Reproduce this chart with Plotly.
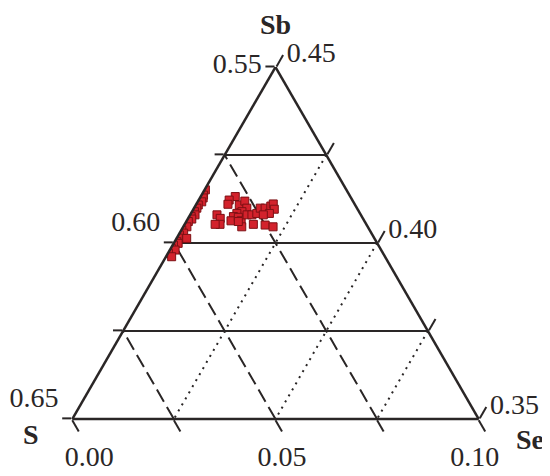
import plotly.graph_objects as go

# Sb / S / Se fractions
# points lying along the S-Sb edge
sb_edge = [0.4151, 0.4136, 0.4128, 0.4117, 0.4108, 0.4099, 0.4089, 0.4080, 0.4075, 0.4068,
           0.4061, 0.4046, 0.4037, 0.4028, 0.4023, 0.4014, 0.4004, 0.3999, 0.3994, 0.3985,
           0.3980, 0.3971, 0.3961, 0.4013]
se_edge = [0.0002, 0.0005, 0.0008, 0.0010, 0.0006, 0.0007, 0.0006, 0.0012, 0.0005, 0.0010,
           0.0005, 0.0009, 0.0001, 0.0010, 0.0002, 0.0004, 0.0005, 0.0011, 0.0002, 0.0001,
           0.0013, 0.0001, 0.0014, 0.0025]
s_edge = [0.5847, 0.5859, 0.5864, 0.5873, 0.5886, 0.5894, 0.5905, 0.5908, 0.5920, 0.5922,
          0.5934, 0.5945, 0.5962, 0.5962, 0.5975, 0.5982, 0.5991, 0.5990, 0.6004, 0.6014,
          0.6007, 0.6028, 0.6025, 0.5962]

# points in the inner cluster
sb_in = [0.4132, 0.4122, 0.4110, 0.4108, 0.4119, 0.4099, 0.4089, 0.4084, 0.4075, 0.4080,
         0.4070, 0.4053, 0.4053, 0.4063, 0.4073, 0.4063, 0.4080, 0.4080, 0.4084, 0.4099,
         0.4099, 0.4105, 0.4111, 0.4096, 0.4084, 0.4080, 0.4046, 0.4053, 0.4051, 0.4046,
         0.4061]
se_in = [0.0085, 0.0075, 0.0078, 0.0107, 0.0115, 0.0130, 0.0123, 0.0113, 0.0109, 0.0066,
         0.0079, 0.0087, 0.0075, 0.0109, 0.0122, 0.0134, 0.0140, 0.0152, 0.0162, 0.0163,
         0.0175, 0.0186, 0.0189, 0.0199, 0.0193, 0.0180, 0.0144, 0.0169, 0.0199, 0.0221,
         0.0128]
s_in = [0.5783, 0.5803, 0.5812, 0.5785, 0.5766, 0.5771, 0.5788, 0.5803, 0.5816, 0.5854,
        0.5851, 0.5860, 0.5872, 0.5828, 0.5805, 0.5803, 0.5780, 0.5768, 0.5754, 0.5738,
        0.5726, 0.5709, 0.5700, 0.5705, 0.5723, 0.5740, 0.5810, 0.5778, 0.5750, 0.5733,
        0.5811]

sb = sb_edge + sb_in
s = s_edge + s_in
se = se_edge + se_in

# tick positions and the labels printed next to them
sb_ticks = [0.35, 0.375, 0.40, 0.425, 0.45]
sb_text = ["0.65", "", "0.60", "", "0.55"]
s_ticks = [0.55, 0.575, 0.60, 0.625, 0.65]
s_text = ["0.10", "", "0.05", "", "0.00"]
se_ticks = [0.0, 0.025, 0.05, 0.075, 0.10]
se_text = ["0.45", "", "0.40", "", "0.35"]

font = "Liberation Serif, Times New Roman, serif"
ink = "#2a2626"
nb = "\u00a0"

# the reference sets the left labels a little above their ticks and the
# bottom end labels in from the corners
sb_shown = [t + "<br>" + nb if t in ("0.65", "0.60") else t for t in sb_text]
s_shown = [nb * 3 + t if t == "0.00" else t + nb * 3 if t == "0.10" else t for t in s_text]

fig = go.Figure(go.Scatterternary(
    a=sb, b=s, c=se,
    mode="markers",
    marker=dict(symbol="square", size=8, color="#d3222c",
                line=dict(color="#7d1014", width=1)),
    hoverinfo="a+b+c",
))


def axis(mn, vals, text, dash, width, ticklen=13):
    return dict(
        title=dict(text=""),
        min=mn,
        tickmode="array", tickvals=vals, ticktext=text,
        ticks="outside", ticklen=ticklen, tickwidth=2, tickcolor=ink,
        tickfont=dict(size=28, family=font, color=ink),
        showline=True, linecolor=ink, linewidth=2.5,
        showgrid=True, gridcolor=ink, gridwidth=width, griddash=dash,
    )


# the page body adds an 8px margin, so the figure is 8px smaller than the window
fig.update_layout(
    width=542, height=468,
    margin=dict(l=64, r=71, t=59, b=57),
    paper_bgcolor="white",
    showlegend=False,
    ternary=dict(
        sum=1,
        bgcolor="white",
        aaxis=axis(0.35, sb_ticks, sb_shown, "solid", 1.5, ticklen=9),
        baxis=axis(0.55, s_ticks, s_shown, "14px,6px", 1.5),
        caxis=axis(0.0, se_ticks, se_text, "2px,5px", 2),
    ),
    annotations=[
        dict(text="<b>Sb</b>", x=0.501, y=1.122),
        dict(text="<b>S</b>", x=-0.100, y=-0.045),
        dict(text="<b>Se</b>", x=1.125, y=-0.057),
    ],
)
fig.update_annotations(xref="paper", yref="paper", showarrow=False,
                       xanchor="center", yanchor="middle",
                       font=dict(size=28, family=font, color=ink))

fig.write_html("out.html")
